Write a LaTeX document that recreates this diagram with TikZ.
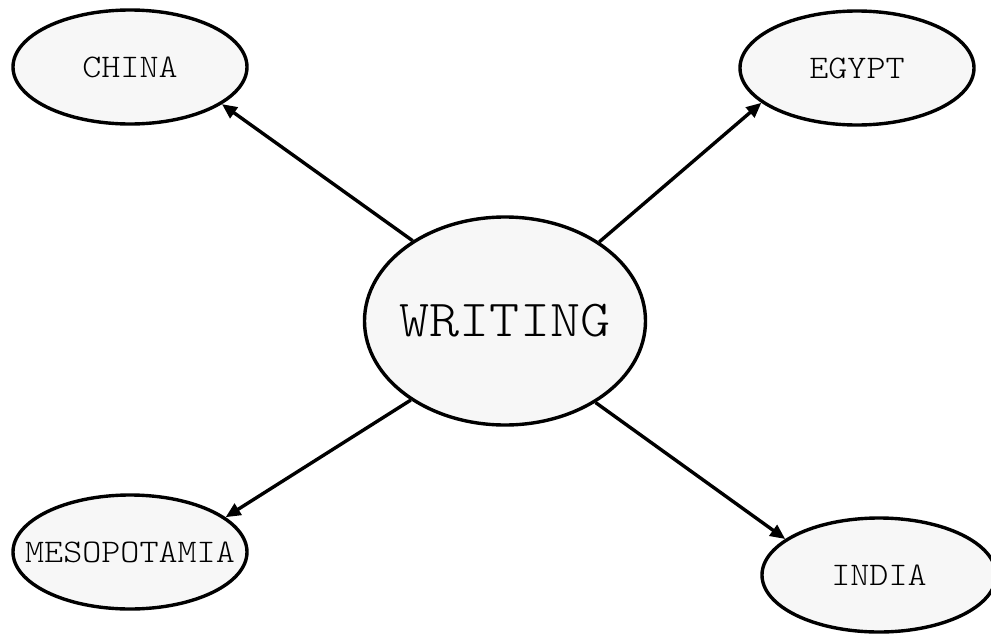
\documentclass[tikz,border=0pt]{standalone}
\usepackage{fontspec}
\setmonofont{Latin Modern Mono Light}
\usetikzlibrary{shapes.geometric,arrows.meta}
\definecolor{nodefill}{HTML}{F7F7F7}
\newcommand{\lbltxt}[1]{\makebox[0pt]{\scalebox{1.1}[1]{#1}}}
\tikzset{
  blob/.style={ellipse, draw=black, line width=3.4pt, fill=nodefill, inner sep=0pt,
    font=\ttfamily\fontsize{33}{33}\selectfont, minimum width=234pt, minimum height=114pt},
  bigblob/.style={blob, font=\ttfamily\fontsize{52}{52}\selectfont, minimum width=281pt, minimum height=208pt},
  link/.style={line width=3.4pt, -{Triangle[length=15pt,width=13pt]}}
}
\begin{document}
\begin{tikzpicture}[x=1pt,y=-1pt]
\useasboundingbox (0,0) rectangle (991,635);
\node[bigblob] (w) at (505,321) {\lbltxt{WRITING}};
\node[blob] (c) at (130,67) {\lbltxt{CHINA}};
\node[blob] (e) at (857,68) {\lbltxt{EGYPT}};
\node[blob] (m) at (130,552) {\lbltxt{MESOPOTAMIA}};
\node[blob] (i) at (879,575) {\lbltxt{INDIA}};
\draw[link] (w.139.5) -- (c.-22);
\draw[link] (w.40.7) -- (e.200.2);
\draw[link] (w.220.8) -- (m.20);
\draw[link] (w.318.6) -- (i.159.6);
\end{tikzpicture}
\end{document}
